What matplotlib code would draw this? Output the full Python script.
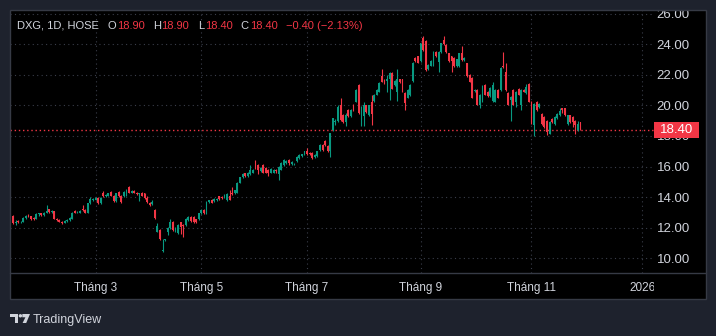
import numpy as np
import pandas as pd
import matplotlib
matplotlib.use("Agg")
import matplotlib.pyplot as plt
import matplotlib.transforms as mtransforms
from matplotlib.patches import Rectangle, Polygon, Circle
from matplotlib.lines import Line2D

# Phiên giao dịch HOSE (nghỉ Tết, Giỗ Tổ, 30/4-1/5, Quốc khánh)
HOLIDAYS = ["2025-01-27", "2025-01-28", "2025-01-29", "2025-01-30", "2025-01-31",
            "2025-04-07", "2025-04-30", "2025-05-01", "2025-05-02",
            "2025-09-01", "2025-09-02", "2026-01-01"]
START_DATE = "2025-01-08"

# DXG daily OHLC, một dòng mỗi tháng (T1 .. T11)
opens = [
    12.5, 12.8, 12.3, 12.45, 12.35, 12.4, 12.65, 12.85, 12.75, 12.65, 12.6, 12.9, 12.95,
    12.85, 13.0, 13.2, 13.05, 13.1, 12.6, 12.5, 12.4, 12.3, 12.45, 12.5, 12.6, 13.1, 13.0, 13.0, 13.25, 13.15, 13.0, 13.6, 13.8,
    13.85, 13.95, 13.6, 14.3, 14.05, 14.1, 14.35, 14.1, 13.75, 14.35, 14.1, 14.05, 14.1, 14.7, 14.3, 14.4, 14.3, 14.2, 14.3, 14.25, 13.95,
    13.65, 13.55, 13.15, 11.75, 11.85, 10.5, 11.2, 11.7, 12.0, 12.4, 11.8, 11.65, 12.35, 12.2, 12.2, 12.5, 12.7, 12.7, 12.55, 12.55,
    12.95, 13.15, 12.95, 13.7, 13.85, 13.75, 13.8, 14.05, 14.0, 14.0, 13.8, 14.1, 14.3, 14.25, 14.3, 14.95, 15.3, 15.55, 15.4, 15.5,
    15.6, 16.35, 16.1, 15.7, 16.1, 15.9, 15.8, 15.6, 15.6, 15.8, 15.5, 15.8, 16.1, 16.25, 16.45, 16.15, 16.15, 16.35, 16.55, 16.7, 16.8,
    17.0, 16.9, 16.9, 16.6, 16.7, 17.1, 17.4, 17.7, 17.35, 17.0, 18.4, 18.9, 18.95, 20.0, 19.4, 18.9, 19.7, 19.3, 20.05, 20.25, 21.35, 19.35, 19.3,
    20.0, 19.35, 20.2, 20.3, 20.7, 20.9, 21.9, 21.65, 21.6, 21.7, 22.1, 21.3, 20.9, 21.7, 21.7, 20.8, 20.5, 20.65, 21.6, 23.1, 23.2,
    22.9, 24.4, 24.2, 22.35, 22.6, 22.65, 23.5, 22.85, 23.5, 24.3, 23.95, 23.4, 23.2, 23.1, 22.55, 22.55, 23.4, 22.95, 22.75, 22.0,
    21.8, 20.95, 21.0, 20.05, 20.25, 21.35, 20.9, 20.6, 20.3, 20.25, 21.0, 21.0, 22.6, 22.2, 20.8, 20.35, 21.0, 20.25, 21.1, 20.05, 21.0, 20.8, 21.4,
    20.25, 18.7, 20.25, 19.9, 19.45, 19.25, 19.0, 18.15, 19.1, 18.8, 19.15, 19.35, 19.8, 19.8, 18.8, 19.35, 19.25, 19.0, 18.4, 18.9,
]
highs = [
    12.9, 12.85, 12.5, 12.5, 12.45, 12.7, 12.85, 12.9, 12.8, 12.7, 12.95, 13.0, 13.0,
    13.05, 13.5, 13.25, 13.15, 13.1, 12.65, 12.55, 12.45, 12.5, 12.6, 12.7, 13.05, 13.15, 13.1, 13.15, 13.5, 13.2, 13.65, 14.0, 13.95,
    14.0, 14.0, 14.0, 14.4, 14.2, 14.3, 14.4, 14.15, 14.3, 14.4, 14.15, 14.4, 14.55, 14.75, 14.45, 14.45, 14.35, 14.3, 14.35, 14.3, 14.1,
    13.7, 13.8, 13.2, 12.3, 11.9, 11.3, 11.3, 12.05, 12.6, 12.45, 12.05, 12.25, 12.4, 12.25, 12.65, 12.75, 12.75, 12.75, 12.6, 13.0,
    13.2, 13.2, 13.75, 13.85, 13.9, 13.95, 13.95, 14.1, 14.05, 14.2, 14.25, 14.5, 14.65, 14.5, 15.0, 15.35, 15.55, 15.6, 15.65, 16.1,
    15.85, 16.45, 16.15, 15.95, 16.15, 15.95, 15.85, 15.9, 15.85, 15.85, 16.05, 16.3, 16.5, 16.4, 16.5, 16.35, 16.25, 16.7, 16.8, 16.85, 17.05,
    17.2, 16.95, 16.95, 16.8, 17.05, 17.45, 17.45, 17.75, 17.4, 18.2, 19.2, 19.1, 20.0, 20.5, 19.45, 19.5, 19.75, 19.75, 20.1, 21.05, 21.4, 19.95, 20.2,
    20.05, 20.05, 20.7, 20.75, 21.05, 21.5, 22.4, 21.7, 22.0, 22.15, 22.15, 21.65, 22.4, 21.75, 21.75, 20.85, 21.05, 21.4, 22.85, 23.15, 23.25,
    24.1, 24.55, 24.25, 22.7, 22.95, 23.55, 23.55, 23.55, 24.1, 24.55, 24.0, 23.45, 23.25, 23.15, 23.05, 23.45, 23.85, 23.15, 22.8, 22.05,
    21.85, 21.1, 21.05, 20.75, 21.3, 21.4, 20.95, 21.2, 21.55, 21.05, 21.05, 22.5, 23.5, 22.8, 20.85, 20.6, 21.05, 20.95, 21.15, 21.05, 21.05, 21.4, 21.45,
    20.3, 20.15, 20.3, 20.15, 19.5, 19.3, 19.05, 18.95, 19.15, 19.3, 19.5, 19.85, 19.85, 19.85, 19.4, 19.4, 19.3, 19.05, 18.95, 18.9,
]
lows = [
    12.4, 12.25, 12.2, 12.3, 12.3, 12.35, 12.6, 12.7, 12.5, 12.5, 12.55, 12.8, 12.8,
    12.8, 12.95, 13.0, 13.0, 12.55, 12.45, 12.35, 12.25, 12.3, 12.4, 12.45, 12.6, 12.95, 12.95, 12.95, 13.1, 12.95, 12.95, 13.55, 13.75,
    13.8, 13.55, 13.55, 14.0, 14.0, 14.05, 14.05, 13.7, 13.7, 14.0, 13.65, 14.0, 14.05, 14.25, 14.25, 14.25, 14.15, 13.75, 14.05, 13.9, 13.65,
    13.45, 13.5, 12.6, 11.75, 11.2, 10.45, 11.15, 11.55, 11.95, 11.8, 11.75, 11.6, 11.6, 11.4, 12.15, 12.45, 12.4, 12.3, 12.3, 12.5,
    12.9, 12.9, 12.9, 13.65, 13.6, 13.7, 13.75, 13.85, 13.9, 13.95, 13.75, 13.8, 14.15, 14.2, 14.25, 14.9, 15.25, 15.35, 15.35, 15.45,
    15.55, 15.85, 15.5, 15.65, 15.55, 15.55, 15.4, 15.55, 15.55, 15.6, 15.15, 15.75, 16.05, 16.2, 16.1, 16.1, 16.1, 16.3, 16.5, 16.65, 16.75,
    16.75, 16.75, 16.5, 16.55, 16.65, 17.05, 17.05, 17.35, 16.95, 16.65, 18.35, 18.75, 18.9, 19.0, 18.85, 18.65, 19.25, 19.25, 19.65, 20.2, 19.45, 18.65, 18.65,
    19.5, 19.3, 18.7, 20.25, 20.65, 20.85, 21.5, 21.4, 20.85, 20.35, 21.05, 21.25, 20.3, 21.45, 20.9, 19.7, 20.45, 20.6, 21.55, 22.85, 22.75,
    22.85, 23.55, 22.25, 22.3, 22.55, 22.6, 23.15, 22.2, 23.45, 23.95, 23.45, 22.85, 22.2, 22.5, 22.5, 22.5, 22.9, 22.9, 21.85, 21.5,
    20.45, 20.9, 20.0, 19.8, 20.2, 20.65, 20.55, 20.55, 20.25, 20.2, 20.45, 20.95, 22.45, 20.95, 20.0, 19.0, 20.0, 19.9, 20.65, 19.7, 20.85, 20.75, 20.2,
    18.8, 18.0, 19.65, 19.85, 18.75, 18.55, 18.05, 18.1, 18.85, 18.75, 19.1, 19.3, 19.5, 19.3, 18.75, 18.85, 18.6, 18.15, 18.35, 18.4,
]
closes = [
    12.8, 12.3, 12.4, 12.35, 12.4, 12.65, 12.8, 12.75, 12.55, 12.6, 12.9, 12.95, 12.85,
    13.0, 13.1, 13.05, 13.1, 12.6, 12.5, 12.4, 12.3, 12.45, 12.5, 12.65, 13.0, 13.0, 13.05, 13.1, 13.15, 13.0, 13.6, 13.9, 13.9,
    13.95, 13.6, 13.95, 14.05, 14.15, 14.25, 14.1, 13.75, 14.25, 14.05, 13.7, 14.35, 14.5, 14.3, 14.4, 14.3, 14.2, 14.25, 14.1, 13.95, 13.7,
    13.5, 13.7, 12.65, 12.1, 11.25, 10.55, 11.25, 12.0, 12.4, 11.85, 12.0, 12.2, 12.05, 12.1, 12.6, 12.7, 12.45, 12.35, 12.35, 12.95,
    13.15, 12.95, 13.7, 13.8, 13.65, 13.9, 13.9, 13.9, 13.95, 14.15, 14.2, 13.85, 14.2, 14.45, 14.95, 15.3, 15.5, 15.4, 15.6, 15.8,
    15.8, 15.9, 15.8, 15.9, 15.6, 15.6, 15.6, 15.85, 15.8, 15.7, 16.0, 16.25, 16.45, 16.35, 16.25, 16.3, 16.2, 16.65, 16.75, 16.8, 17.0,
    16.8, 16.8, 16.55, 16.75, 17.0, 17.4, 17.1, 17.4, 17.0, 18.2, 19.15, 19.0, 19.9, 19.05, 18.9, 19.4, 19.3, 19.7, 19.7, 21.0, 19.5, 19.4, 20.0,
    19.55, 20.0, 19.45, 20.7, 21.0, 21.45, 21.55, 21.45, 21.7, 22.1, 21.1, 21.6, 21.7, 21.5, 20.95, 20.15, 21.0, 21.35, 22.8, 22.9, 22.8,
    24.05, 23.6, 22.3, 22.65, 22.9, 23.5, 23.2, 23.5, 24.05, 24.0, 23.5, 22.9, 22.9, 22.55, 23.0, 23.4, 22.95, 23.1, 21.9, 21.55,
    20.5, 21.0, 20.05, 20.7, 21.25, 20.7, 20.6, 21.15, 21.35, 21.0, 20.5, 22.45, 22.5, 21.0, 20.05, 20.55, 20.05, 20.9, 20.7, 21.0, 20.9, 21.2, 20.25,
    18.85, 20.1, 19.7, 20.1, 18.8, 18.6, 18.25, 18.9, 18.9, 19.25, 19.45, 19.65, 19.7, 19.35, 19.35, 18.9, 18.9, 18.7, 18.8, 18.4,
]

PRICE_TICKS = [10, 12, 14, 16, 18, 20, 22, 24, 26]
MONTH_TICKS = [(2025, 3), (2025, 5), (2025, 7), (2025, 9), (2025, 11), (2026, 1)]
MONTH_LABELS = ["Tháng 3", "Tháng 5", "Tháng 7", "Tháng 9", "Tháng 11", "2026"]

# màu theo giao diện tối
BG_OUTER = "#1e222d"
BORDER = "#363a45"
GRID = "#3a3e4a"
TXT = "#d1d4dc"
UP = "#089981"
DOWN = "#f23645"

W, H = 716, 336

assert len(opens) == len(highs) == len(lows) == len(closes)
n = len(closes)
sessions = pd.bdate_range(START_DATE, "2026-01-30", freq="C", holidays=HOLIDAYS)
idx = np.arange(n)
tick_pos = [int(np.argmax((sessions.year == y) & (sessions.month == m))) for y, m in MONTH_TICKS]

plt.rcParams["font.family"] = ["Liberation Sans", "DejaVu Sans"]

fig = plt.figure(figsize=(W / 100, H / 100), dpi=100, facecolor=BG_OUTER)
# toạ độ pixel, gốc ở góc trên bên trái
px = mtransforms.Affine2D().scale(1 / W, -1 / H).translate(0, 1) + fig.transFigure

fig.add_artist(Rectangle((10, 10), 696, 289, transform=px, facecolor="black",
                         edgecolor="none", zorder=-1))

ax = fig.add_axes([10 / W, 1 - 273 / H, 644 / W, 263 / H])
ax.set_facecolor("black")
for s in ax.spines.values():
    s.set_visible(False)

o = np.array(opens)
h = np.array(highs)
l = np.array(lows)
c = np.array(closes)
colors = np.where(c >= o, UP, DOWN)

ax.vlines(idx, l, h, colors=colors, lw=0.8, zorder=3)
body = np.maximum(np.abs(c - o), 0.04)
ax.bar(idx, body, bottom=np.minimum(o, c), width=0.72, color=colors, lw=0, zorder=4)

ax.set_xlim(-0.15, 249.5)
ax.set_ylim(9.05, 26.23)

ax.yaxis.tick_right()
ax.set_yticks(PRICE_TICKS)
ax.set_yticklabels([f"{v:.2f}" for v in PRICE_TICKS])
ax.tick_params(axis="y", length=0, pad=2, labelsize=9.5, labelcolor=TXT)
ax.set_xticks(tick_pos)
ax.set_xticklabels(MONTH_LABELS)
ax.tick_params(axis="x", length=0, pad=6.5, labelsize=8.5, labelcolor=TXT)
ax.grid(True, color=GRID, linestyle=(0, (1, 3)), lw=0.8)
ax.set_axisbelow(True)

# đường giá đóng cửa gần nhất và nhãn
last = closes[-1]
ax.axhline(last, color=DOWN, linestyle=(0, (1, 2)), lw=1, zorder=2)
ytr = ax.get_yaxis_transform()
ax.add_patch(Rectangle((1.0, last - 0.52), 45 / 644, 1.04, transform=ytr,
                       facecolor=DOWN, edgecolor="none", clip_on=False, zorder=6))
ax.text(1.0 + 22.5 / 644, last, f"{last:.2f}", transform=ytr, ha="center", va="center",
        color="white", fontsize=9.5, clip_on=False, zorder=7)

# che phần nhãn tràn ra ngoài khung: trên cùng và góc dưới bên phải
fig.add_artist(Rectangle((0, 0), W, 9.5, transform=px, facecolor=BG_OUTER,
                         edgecolor="none", zorder=5))
fig.add_artist(Rectangle((654, 273.5), 51.5, 25, transform=px, facecolor="black",
                         edgecolor="none", zorder=5))
fig.add_artist(Rectangle((10, 10), 696, 289, transform=px, facecolor="none",
                         edgecolor=BORDER, lw=1, zorder=6))
fig.add_artist(Line2D([10, 706], [273, 273], transform=px, color=BORDER, lw=1, zorder=6))

# tiêu đề OHLC, các mảnh nối tiếp nhau
prev = closes[-2]
chg = last - prev
pct = chg / prev * 100
fmt = lambda v: f"{v:+.2f}".replace("-", "\u2212")
pieces = [
    ("O", TXT, 6.0), (f"{opens[-1]:.2f}", DOWN, 0.6),
    ("H", TXT, 6.0), (f"{highs[-1]:.2f}", DOWN, 0.6),
    ("L", TXT, 6.0), (f"{lows[-1]:.2f}", DOWN, 0.6),
    ("C", TXT, 6.0), (f"{last:.2f}", DOWN, 0.6),
    (f"{fmt(chg)} ({fmt(pct)}%)", DOWN, 6.0),
]
anchor = fig.text(17, 30.6, "DXG, 1D, HOSE", transform=px, color=TXT, fontsize=8,
                  va="bottom", ha="left")
for s, col, gap in pieces:
    anchor = ax.annotate(s, xy=(1, 0), xycoords=anchor, xytext=(gap, 0),
                         textcoords="offset points", color=col, fontsize=8,
                         va="bottom", ha="left", annotation_clip=False)

# logo TradingView
logo = "#d1d4dc"
fig.add_artist(Polygon([(10, 314), (18.3, 314), (18.3, 323), (15, 323), (15, 317.3), (10, 317.3)],
                       closed=True, transform=px, facecolor=logo, edgecolor="none"))
fig.add_artist(Circle((20.4, 315.8), 1.7, transform=px, facecolor=logo, edgecolor="none"))
fig.add_artist(Polygon([(22.3, 314), (30, 314), (26.2, 323), (22.6, 323), (25.4, 317.3), (22.3, 317.3)],
                       closed=True, transform=px, facecolor=logo, edgecolor="none"))
fig.text(33, 322.5, "TradingView", transform=px, color=logo, fontsize=9, va="baseline", ha="left")

fig.savefig("out.png", dpi=100, facecolor=BG_OUTER)
